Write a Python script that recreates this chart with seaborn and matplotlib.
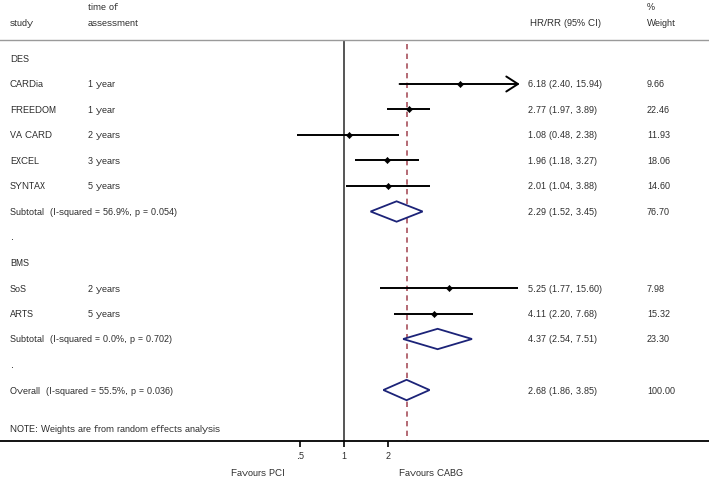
import matplotlib
matplotlib.use("Agg")
import matplotlib.pyplot as plt
import seaborn as sns
import numpy as np
import pandas as pd
from matplotlib.transforms import blended_transform_factory

# ---- data ----
studies = ["CARDia", "FREEDOM", "VA CARD", "EXCEL", "SYNTAX", "SoS", "ARTS"]
times = ["1 year", "1 year", "2 years", "3 years", "5 years", "2 years", "5 years"]
est = [6.18, 2.77, 1.08, 1.96, 2.01, 5.25, 4.11]
lo = [2.40, 1.97, 0.48, 1.18, 1.04, 1.77, 2.20]
hi = [15.94, 3.89, 2.38, 3.27, 3.88, 15.60, 7.68]
weights = [9.66, 22.46, 11.93, 18.06, 14.60, 7.98, 15.32]
study_rows = [1, 2, 3, 4, 5, 9, 10]

pool_labels = ["Subtotal  (I-squared = 56.9%, p = 0.054)",
               "Subtotal  (I-squared = 0.0%, p = 0.702)",
               "Overall  (I-squared = 55.5%, p = 0.036)"]
pool_est = [2.29, 4.37, 2.68]
pool_lo = [1.52, 2.54, 1.86]
pool_hi = [3.45, 7.51, 3.85]
pool_w = [76.70, 23.30, 100.00]
pool_rows = [6, 11, 13]

groups = ["DES", "BMS"]
group_rows = [0, 8]
dot_rows = [7, 12]
xticks = [0.5, 1, 2]
xticklabels = [".5", "1", "2"]

# ---- figure ----
W, H = 709, 478
sns.set_theme(style="white")
plt.rcParams['font.family'] = ['Liberation Sans', 'DejaVu Sans']
plt.rcParams['text.hinting'] = 'native'
plt.rcParams['text.hinting_factor'] = 1
fig = plt.figure(figsize=(W / 100, H / 100), dpi=100)

top_px, bot_px = 40, 441
ax = fig.add_axes([0, (H - bot_px) / H, 1, (bot_px - top_px) / H])

# x: log scale, 1 at px 344, 44 px per doubling
x0_px, ppd = 344, 44
ax.set_xscale("log", base=2)
ax.set_xlim(2 ** (-x0_px / ppd), 2 ** ((W - x0_px) / ppd))
# y: row r at px 58.5 + 25.5 r
r0, rs = 58.5, 25.5
ax.set_ylim((bot_px - r0) / rs, (top_px - r0) / rs)

fs = 6.7
navy = "#1c2378"
red = "#a8505c"
VA = "center_baseline"

# reference lines
ax.axvline(1, color="#555555", lw=1.4, zorder=1)
ax.vlines(pool_est[2], (top_px + 4 - r0) / rs, (bot_px - r0) / rs, colors=red,
          linestyles=(0, (3.2, 2.6)), lw=1.2, zorder=1)

# CIs
df = pd.DataFrame({"study": studies, "est": est, "lo": lo, "hi": hi, "row": study_rows})
for i, r in df.iterrows():
    if r["study"] == "CARDia":
        ax.annotate("", xy=(r["hi"], r["row"]), xytext=(r["lo"], r["row"]),
                    arrowprops=dict(arrowstyle="->,head_length=0.7,head_width=0.45",
                                    lw=1.4, color="black", shrinkA=0, shrinkB=0))
    else:
        ax.hlines(r["row"], r["lo"], r["hi"], colors="black", lw=1.4)
sns.scatterplot(data=df, x="est", y="row", marker="D", s=10, color="black",
                edgecolor="black", linewidth=0.4, ax=ax, zorder=3, legend=False)

# pooled diamonds
h = 0.4
for e, l, u, rr in zip(pool_est, pool_lo, pool_hi, pool_rows):
    ax.fill([l, e, u, e, l], [rr, rr - h, rr, rr + h, rr], facecolor="white",
            edgecolor=navy, lw=1.3, zorder=3)

# spines and ticks
for s in ["left", "right"]:
    ax.spines[s].set_visible(False)
ax.spines["bottom"].set_color("black")
ax.spines["bottom"].set_linewidth(1.3)
ax.spines["top"].set_color("#9a9a9a")
ax.spines["top"].set_linewidth(1.0)
ax.set_xticks(xticks)
ax.set_xticklabels(xticklabels, fontsize=fs)
ax.minorticks_off()
ax.tick_params(axis="x", which="major", bottom=True, direction="out", length=4.5,
               width=1.2, color="black", pad=3.5)
ax.set_yticks([])
ax.set_xlabel("")
ax.set_ylabel("")

# text columns
tr = blended_transform_factory(ax.transAxes, ax.transData)
def px(x):
    return x / W

def t(x, y, s):
    ax.text(px(x), y, s, transform=tr, fontsize=fs, va=VA, ha="left")

for g, rr in zip(groups, group_rows):
    t(10, rr, g)
for rr in dot_rows:
    t(10, rr, ".")
for s, tm, e, l, u, w, rr in zip(studies, times, est, lo, hi, weights, study_rows):
    t(10, rr, s)
    t(88, rr, tm)
    t(528, rr, f"{e:.2f} ({l:.2f}, {u:.2f})")
    t(647, rr, f"{w:.2f}")
for s, e, l, u, w, rr in zip(pool_labels, pool_est, pool_lo, pool_hi, pool_w, pool_rows):
    t(10, rr, s)
    t(528, rr, f"{e:.2f} ({l:.2f}, {u:.2f})")
    t(647, rr, f"{w:.2f}")
t(10, 14.5, "NOTE: Weights are from random effects analysis")

# header
def fy(y):
    return 1 - y / H
fig.text(px(10), fy(23), "study", fontsize=fs, va=VA, ha="left")
fig.text(px(88), fy(6), "time of", fontsize=fs, va=VA, ha="left")
fig.text(px(88), fy(23), "assessment", fontsize=fs, va=VA, ha="left")
fig.text(px(530), fy(23), "HR/RR (95% CI)", fontsize=fs, va=VA, ha="left")
fig.text(px(647), fy(6), "%", fontsize=fs, va=VA, ha="left")
fig.text(px(647), fy(23), "Weight", fontsize=fs, va=VA, ha="left")

# favours labels
fig.text(px(258), fy(472), "Favours PCI", fontsize=fs, va=VA, ha="center")
fig.text(px(431), fy(472), "Favours CABG", fontsize=fs, va=VA, ha="center")

fig.savefig("out.png", dpi=100)
